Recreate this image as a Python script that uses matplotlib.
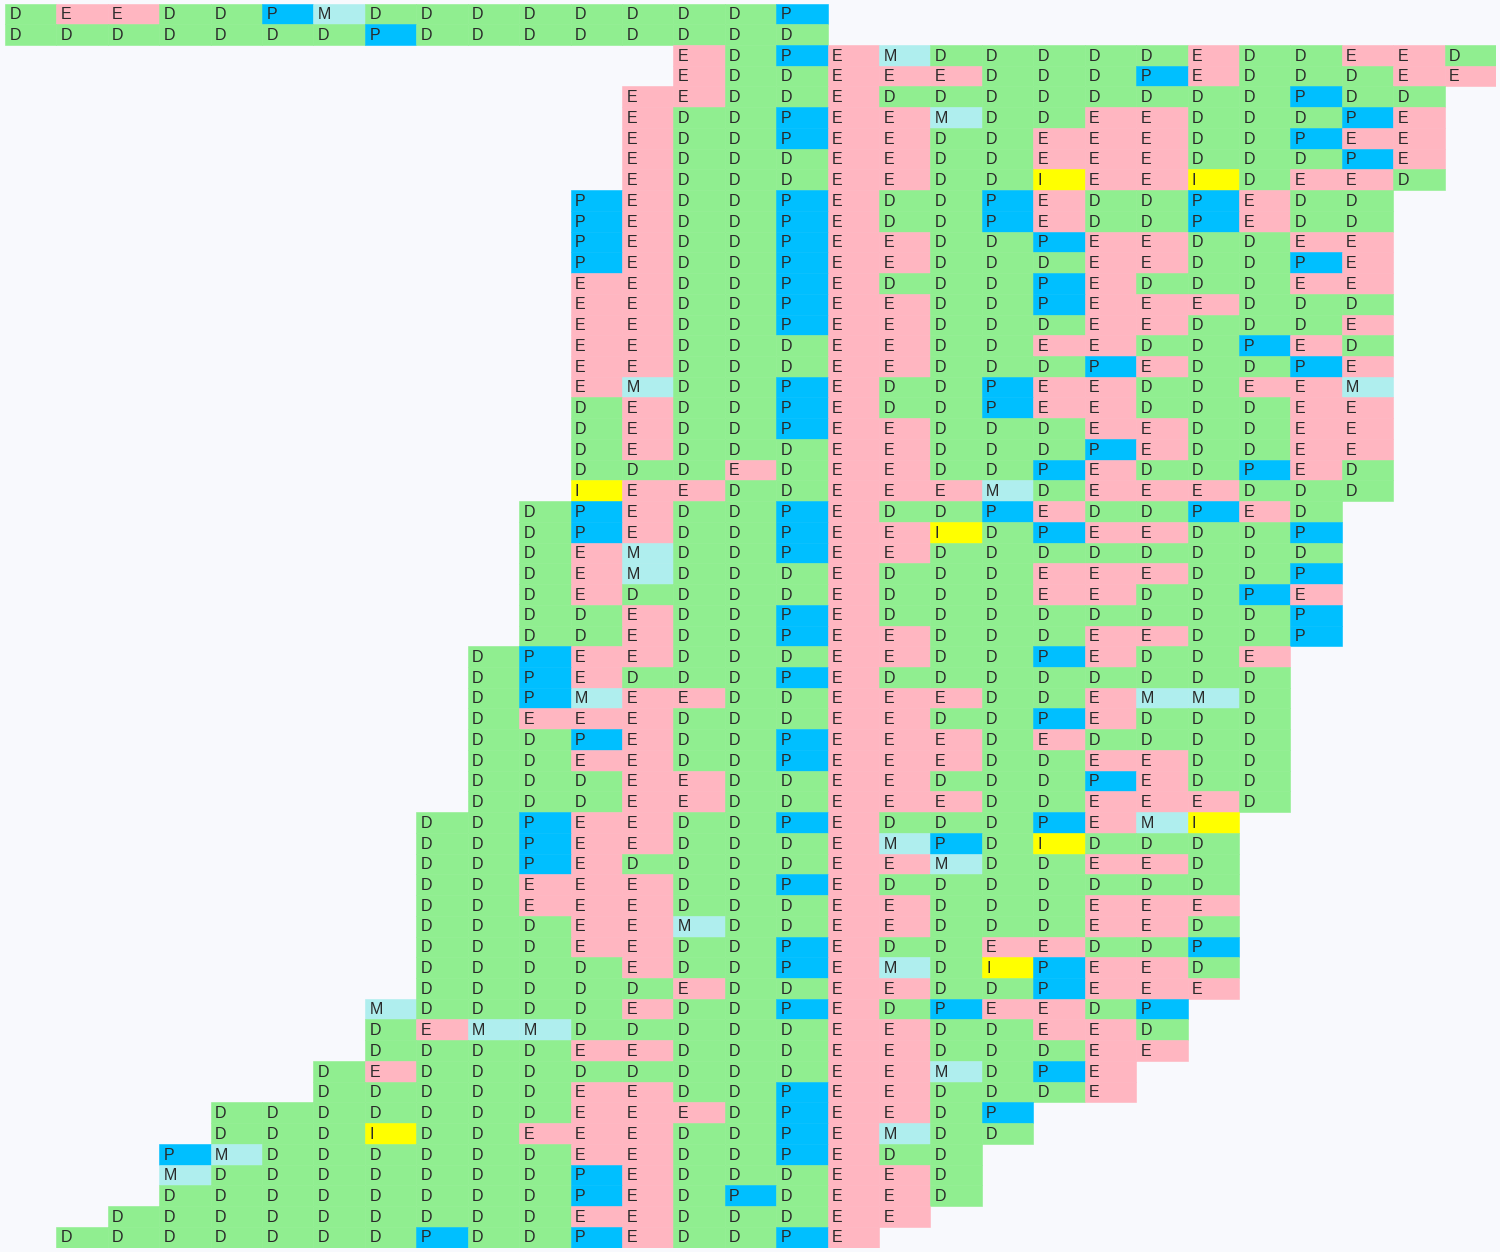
import matplotlib
matplotlib.use('Agg')
import matplotlib.pyplot as plt

# first column of every row (rows top to bottom)
offsets = [0, 0, 13, 13, 12, 12, 12, 12, 12,
           11, 11, 11, 11, 11, 11, 11, 11, 11, 11, 11, 11, 11, 11, 11,
           10, 10, 10, 10, 10, 10, 10,
           9, 9, 9, 9, 9, 9, 9, 9,
           8, 8, 8, 8, 8, 8, 8, 8, 8,
           7, 7, 7, 6, 6, 4, 4, 3, 3, 3, 2, 1]

# letters of every row, 16 per row
rows = [
    "DEEDDPMDDDDDDDDP",
    "DDDDDDDPDDDDDDDD",
    "EDPEMDDDDDEDDEED",
    "EDDEEEDDDPEDDDEE",
    "EEDDEDDDDDDDDPDD",
    "EDDPEEMDDEEDDDPE",
    "EDDPEEDDEEEDDPEE",
    "EDDDEEDDEEEDDDPE",
    "EDDDEEDDIEEIDEED",
    "PEDDPEDDPEDDPEDD",
    "PEDDPEDDPEDDPEDD",
    "PEDDPEEDDPEEDDEE",
    "PEDDPEEDDDEEDDPE",
    "EEDDPEDDDPEDDDEE",
    "EEDDPEEDDPEEEDDD",
    "EEDDPEEDDDEEDDDE",
    "EEDDDEEDDEEDDPED",
    "EEDDDEEDDDPEDDPE",
    "EMDDPEDDPEEDDEEM",
    "DEDDPEDDPEEDDDEE",
    "DEDDPEEDDDEEDDEE",
    "DEDDDEEDDDPEDDEE",
    "DDDEDEEDDPEDDPED",
    "IEEDDEEEMDEEEDDD",
    "DPEDDPEDDPEDDPED",
    "DPEDDPEEIDPEEDDP",
    "DEMDDPEEDDDDDDDD",
    "DEMDDDEDDDEEEDDP",
    "DEDDDDEDDDEEDDPE",
    "DDEDDPEDDDDDDDDP",
    "DDEDDPEEDDDEEDDP",
    "DPEEDDDEEDDPEDDE",
    "DPEDDDPEDDDDDDDD",
    "DPMEEDDEEEDDEMMD",
    "DEEEDDDEEDDPEDDD",
    "DDPEDDPEEEDEDDDD",
    "DDEEDDPEEEDDEEDD",
    "DDDEEDDEEDDDPEDD",
    "DDDEEDDEEEDDEEED",
    "DDPEEDDPEDDDPEMI",
    "DDPEEDDDEMPDIDDD",
    "DDPEDDDDEEMDDEED",
    "DDEEEDDPEDDDDDDD",
    "DDEEEDDDEEDDDEEE",
    "DDDEEMDDEEDDDEED",
    "DDDEEDDPEDDEEDDP",
    "DDDDEDDPEMDIPEED",
    "DDDDDEDDEEDDPEEE",
    "MDDDDEDDPEDPEEDP",
    "DEMMDDDDDEEDDEED",
    "DDDDEEDDDEEDDDEE",
    "DEDDDDDDDDEEMDPE",
    "DDDDDEEDDPEEDDDE",
    "DDDDDDDEEEDPEEDP",
    "DDDIDDEEEDDPEMDD",
    "PMDDDDDDEEDDPEDD",
    "MDDDDDDDPEDDDEED",
    "DDDDDDDDPEDPDEED",
    "DDDDDDDDDEEDDDEE",
    "DDDDDDDPDDPEDDPE",
]

colors = {'D': '#90EE90', 'E': '#FFB6C1', 'P': '#00BFFF',
          'M': '#AFEEEE', 'I': '#FFFF00'}
bg = '#F8F9FD'
n_cols = 29


def main():
    fig = plt.figure(figsize=(15, 12.52), dpi=100)
    fig.patch.set_facecolor(bg)
    ax = fig.add_axes([5 / 1500, 4.5 / 1252, 1491 / 1500, 1244 / 1252])
    ax.set_facecolor(bg)

    ys, lefts, cols = [], [], []
    for r, (off, seq) in enumerate(zip(offsets, rows)):
        for k, ch in enumerate(seq):
            ys.append(r)
            lefts.append(off + k)
            cols.append(colors[ch])

    ax.barh(ys, 1, left=lefts, height=1, align='edge',
            color=cols, edgecolor=cols, linewidth=0.4)

    for r, (off, seq) in enumerate(zip(offsets, rows)):
        for k, ch in enumerate(seq):
            ax.text(off + k + 0.085, r + 0.54, ch, ha='left', va='center',
                    fontsize=11.5, family='Liberation Sans', color='#2a2a2a')

    ax.set_xlim(0, n_cols)
    ax.set_ylim(len(rows), 0)
    ax.axis('off')

    fig.savefig('out.png', dpi=100, facecolor=bg)
    plt.close(fig)


if __name__ == '__main__':
    main()
